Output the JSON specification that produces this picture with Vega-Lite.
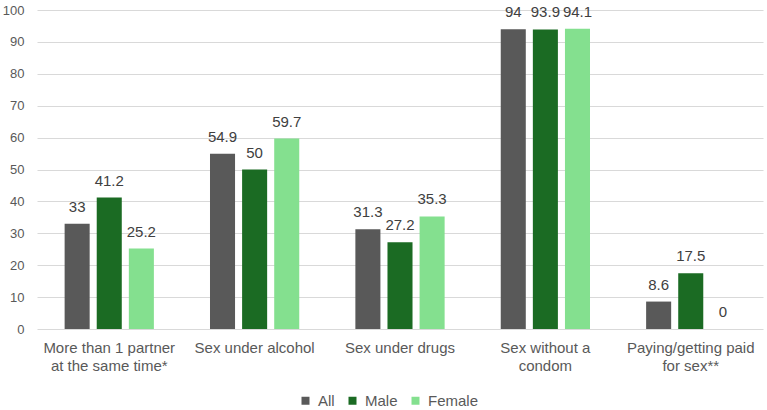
{
  "$schema": "https://vega.github.io/schema/vega-lite/v6.json",
  "width": 726,
  "height": 319,
  "autosize": {"type": "none"},
  "padding": {"left": 37, "top": 10, "right": 4, "bottom": 81},
  "background": "white",
  "config": {
    "font": "Liberation Sans",
    "view": {"stroke": null}
  },
  "data": {
    "values": [
      {"behaviour": "More than 1 partner at the same time*", "group": "All", "value": 33},
      {"behaviour": "More than 1 partner at the same time*", "group": "Male", "value": 41.2},
      {"behaviour": "More than 1 partner at the same time*", "group": "Female", "value": 25.2},
      {"behaviour": "Sex under alcohol", "group": "All", "value": 54.9},
      {"behaviour": "Sex under alcohol", "group": "Male", "value": 50},
      {"behaviour": "Sex under alcohol", "group": "Female", "value": 59.7},
      {"behaviour": "Sex under drugs", "group": "All", "value": 31.3},
      {"behaviour": "Sex under drugs", "group": "Male", "value": 27.2},
      {"behaviour": "Sex under drugs", "group": "Female", "value": 35.3},
      {"behaviour": "Sex without a condom", "group": "All", "value": 94},
      {"behaviour": "Sex without a condom", "group": "Male", "value": 93.9},
      {"behaviour": "Sex without a condom", "group": "Female", "value": 94.1},
      {"behaviour": "Paying/getting paid for sex**", "group": "All", "value": 8.6},
      {"behaviour": "Paying/getting paid for sex**", "group": "Male", "value": 17.5},
      {"behaviour": "Paying/getting paid for sex**", "group": "Female", "value": 0}
    ]
  },
  "encoding": {
    "x": {
      "field": "behaviour",
      "type": "nominal",
      "sort": null,
      "scale": {"paddingInner": 0.386, "paddingOuter": 0.19},
      "axis": {
        "title": null,
        "labelAngle": 0,
        "domain": false,
        "ticks": false,
        "tickSize": 0,
        "labelPadding": 11,
        "labelFont": "Liberation Sans",
        "labelFontSize": 15,
        "labelColor": "#595959",
        "labelLineHeight": 18,
        "labelExpr": "datum.label == 'More than 1 partner at the same time*' ? ['More than 1 partner', 'at the same time*'] : datum.label == 'Sex without a condom' ? ['Sex without a', 'condom'] : datum.label == 'Paying/getting paid for sex**' ? ['Paying/getting paid', 'for sex**'] : datum.label"
      }
    },
    "xOffset": {
      "field": "group",
      "type": "nominal",
      "sort": ["All", "Male", "Female"],
      "scale": {"paddingInner": 0.22, "paddingOuter": 0}
    },
    "y": {
      "field": "value",
      "type": "quantitative",
      "scale": {"domain": [0, 100], "nice": false},
      "axis": {
        "title": null,
        "values": [0, 10, 20, 30, 40, 50, 60, 70, 80, 90, 100],
        "domain": false,
        "ticks": false,
        "tickSize": 0,
        "labelPadding": 13,
        "labelFontSize": 13,
        "labelColor": "#595959",
        "gridColor": "#d9d9d9",
        "gridWidth": 1
      }
    }
  },
  "layer": [
    {
      "mark": {"type": "bar"},
      "encoding": {
        "color": {
          "field": "group",
          "type": "nominal",
          "scale": {"domain": ["All", "Male", "Female"], "range": ["#595959", "#1b6b23", "#84e08f"]},
          "legend": {
            "title": null,
            "orient": "none",
            "direction": "horizontal",
            "legendX": 261,
            "legendY": 383,
            "symbolType": "square",
            "symbolSize": 64,
            "symbolStrokeWidth": 0,
            "labelFontSize": 15,
            "labelColor": "#595959",
            "labelOffset": 5,
            "columnPadding": 10
          }
        }
      }
    },
    {
      "mark": {"type": "text", "baseline": "alphabetic", "dy": -12, "fontSize": 15, "color": "#404040"},
      "encoding": {
        "text": {"field": "value", "type": "quantitative", "format": ""}
      }
    }
  ]
}
